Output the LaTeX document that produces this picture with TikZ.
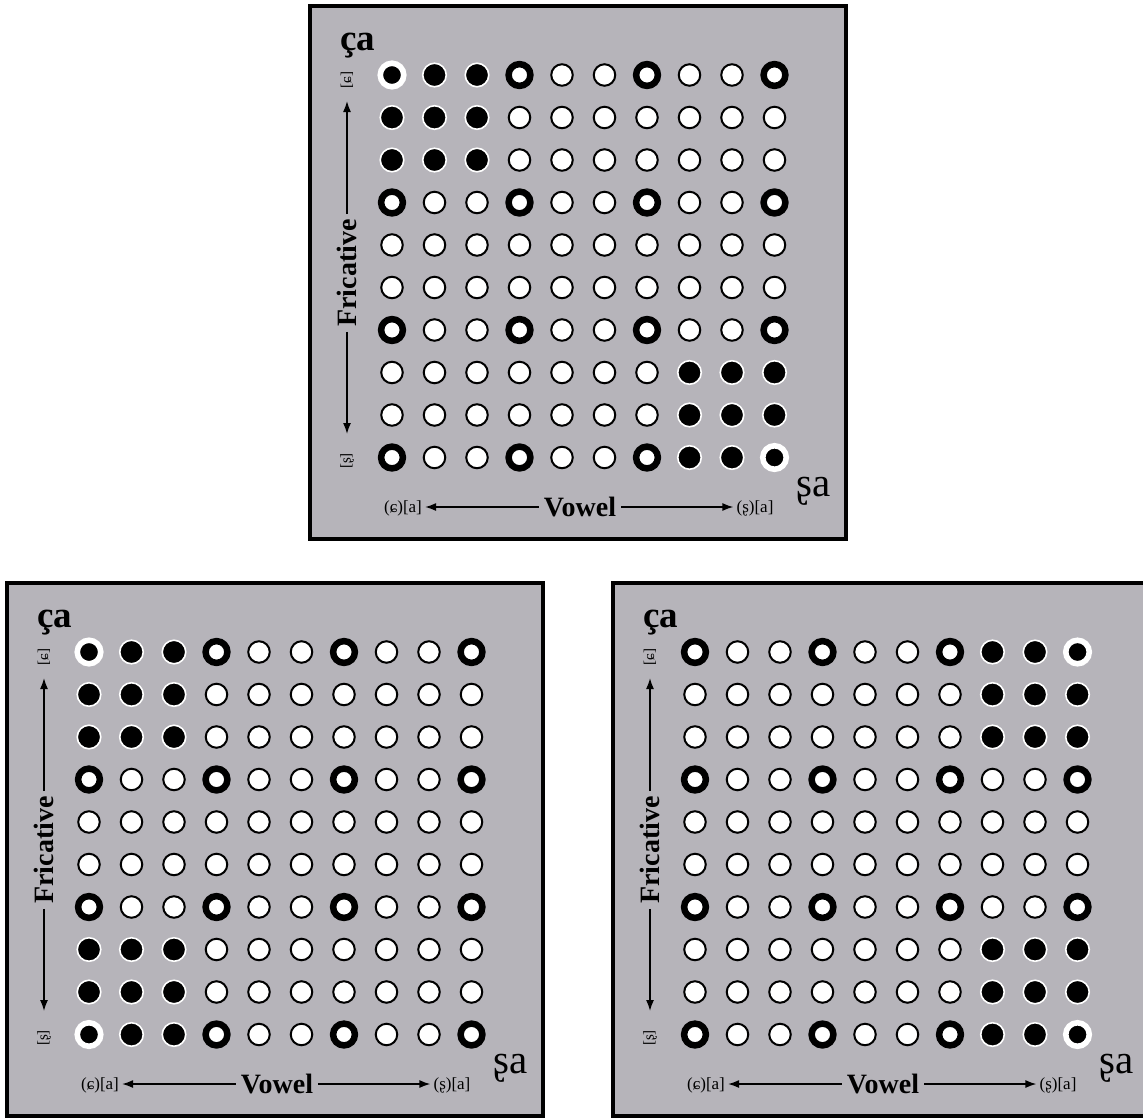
\documentclass[tikz,border=0pt]{standalone}
\usepackage{fontspec}
\setmainfont{Liberation Serif}
\usetikzlibrary{arrows.meta}
\definecolor{panelgray}{RGB}{182,180,186}
\tikzset{
  panel/.style={draw=black, fill=panelgray, line width=4pt},
  dotW/.style={circle, inner sep=0pt, minimum size=21.5pt, fill=white, draw=black, line width=2pt},
  dotB/.style={circle, inner sep=0pt, minimum size=21.8pt, fill=white, draw=black, line width=6.5pt},
  dotF/.style={circle, inner sep=0pt, minimum size=23.5pt, fill=black, draw=white, line width=1.6pt},
  dotC/.style={circle, inner sep=0pt, minimum size=23.5pt, fill=black, draw=white, line width=5.6pt},
  calabel/.style={font=\fontsize{37}{37}\bfseries, anchor=base west, inner sep=0pt},
  salabel/.style={font=\fontsize{41}{41}\selectfont, inner sep=0pt},
  axislabel/.style={font=\fontsize{28}{28}\bfseries, inner sep=5pt},
  endlabel/.style={font=\fontsize{17}{17}\selectfont, inner sep=3pt},
  tinylabel/.style={font=\fontsize{15}{15}\selectfont, inner sep=1pt, rotate=90},
  arr/.style={line width=1.5pt, -{Latex[length=11pt,width=8pt]}},
}
\newcommand\dotpanel[4]{%
  \begin{scope}[shift={(#1,#2)}]
    \draw[panel] (0,0) rectangle (536,533);
    \foreach \rowpat [count=\r] in {#4} {
      \foreach \t [count=\c] in \rowpat {
        \node[dot\t] (#3-\r-\c) at ({82+42.5*(\c-1)},{69+42.5*(\r-1)}) {};
      }
    }
    \node[calabel] (#3-ca) at (30,44) {ça};
    \node[tinylabel] (#3-top) at (37,74) {[ɕ]};
    \node[axislabel, rotate=90] (#3-fric) at (37,267) {Fricative};
    \coordinate (#3-uptip) at (37,95);
    \coordinate (#3-dntip) at (37,428);
    \draw[arr] (#3-fric.east) -- (#3-fric.east |- #3-uptip);
    \draw[arr] (#3-fric.west) -- (#3-fric.west |- #3-dntip);
    \node[tinylabel] (#3-bot) at (37,455) {[ʂ]};
    \node[endlabel] (#3-left) at (93,502) {(ɕ)[a]};
    \node[axislabel] (#3-vowel) at (270,501) {Vowel};
    \node[endlabel] (#3-right) at (445,502) {(ʂ)[a]};
    \draw[arr] (#3-vowel.west) -- (#3-left.east |- #3-vowel.west);
    \draw[arr] (#3-vowel.east) -- (#3-right.west |- #3-vowel.east);
    \node[salabel] (#3-sa) at (504,485) {ʂa};
  \end{scope}}
\begin{document}
\begin{tikzpicture}[x=1pt, y=-1pt]
  \clip (0,0) rectangle (1143,1117);
  \fill[white] (0,0) rectangle (1143,1117);
  % top panel
  \dotpanel{310}{6}{tp}{%
    {C,F,F,B,W,W,B,W,W,B},
    {F,F,F,W,W,W,W,W,W,W},
    {F,F,F,W,W,W,W,W,W,W},
    {B,W,W,B,W,W,B,W,W,B},
    {W,W,W,W,W,W,W,W,W,W},
    {W,W,W,W,W,W,W,W,W,W},
    {B,W,W,B,W,W,B,W,W,B},
    {W,W,W,W,W,W,W,F,F,F},
    {W,W,W,W,W,W,W,F,F,F},
    {B,W,W,B,W,W,B,F,F,C}}
  % bottom left panel
  \dotpanel{7}{583}{bl}{%
    {C,F,F,B,W,W,B,W,W,B},
    {F,F,F,W,W,W,W,W,W,W},
    {F,F,F,W,W,W,W,W,W,W},
    {B,W,W,B,W,W,B,W,W,B},
    {W,W,W,W,W,W,W,W,W,W},
    {W,W,W,W,W,W,W,W,W,W},
    {B,W,W,B,W,W,B,W,W,B},
    {F,F,F,W,W,W,W,W,W,W},
    {F,F,F,W,W,W,W,W,W,W},
    {C,F,F,B,W,W,B,W,W,B}}
  % bottom right panel
  \dotpanel{613}{583}{br}{%
    {B,W,W,B,W,W,B,F,F,C},
    {W,W,W,W,W,W,W,F,F,F},
    {W,W,W,W,W,W,W,F,F,F},
    {B,W,W,B,W,W,B,W,W,B},
    {W,W,W,W,W,W,W,W,W,W},
    {W,W,W,W,W,W,W,W,W,W},
    {B,W,W,B,W,W,B,W,W,B},
    {W,W,W,W,W,W,W,F,F,F},
    {W,W,W,W,W,W,W,F,F,F},
    {B,W,W,B,W,W,B,F,F,C}}
\end{tikzpicture}
\end{document}
